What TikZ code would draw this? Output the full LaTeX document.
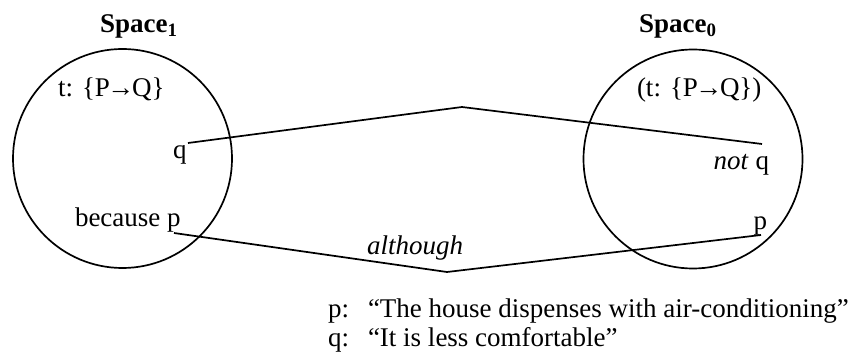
\documentclass[tikz,border=0pt]{standalone}
\usepackage{fontspec}
\setmainfont{Liberation Serif}
\newcommand{\impl}{P\kern-2.5pt→\kern-2.5pt Q}
\begin{document}
\begin{tikzpicture}[x=1pt,y=-1pt,
  lbl/.style={inner sep=0pt,outer sep=0pt,font=\fontsize{27}{32}\selectfont},
  space/.style={circle,draw,line width=1.7pt,inner sep=0pt,minimum size=219pt},
  link/.style={line width=1.7pt,line join=round}]
\useasboundingbox (0,0) rectangle (854,355);
% spaces
\node[space] (c1) at (122.5,158.5) {};
\node[space] (c0) at (693,159) {};
\node[lbl,anchor=base west] (sp1) at (100,33) {\textbf{Space\textsubscript{1}}};
\node[lbl,anchor=base west] (sp0) at (639,33) {\textbf{Space\textsubscript{0}}};
% contents
\node[lbl,anchor=base west] (t1) at (58,97) {t: \{\impl\}};
\node[lbl,anchor=base west] (t0) at (637,97) {(t: \{\impl\})};
\node[lbl,anchor=base west] (q1) at (173,159) {q};
\node[lbl,anchor=base west] (bp) at (75,227) {because p};
\node[lbl,anchor=base east] (nq) at (769,170) {\textit{not} q};
\node[lbl,anchor=base east] (p0) at (767,230) {p};
\node[lbl,anchor=base east] (alth) at (463,255) {\textit{although}};
% connectors
\coordinate (qa) at (188,143);
\coordinate (qtop) at (462,107);
\coordinate (qb) at (762,144);
\coordinate (pa) at (174,233);
\coordinate (pbot) at (447,272);
\coordinate (pb) at (761,235);
\draw[link] (qa) -- (qtop) -- (qb);
\draw[link] (pa) -- (pbot) -- (pb);
% legend
\node[lbl,anchor=base west] (lp) at (328,318) {p:};
\node[lbl,anchor=base west] (lpt) at (368,318) {“The house dispenses with air-conditioning”};
\node[lbl,anchor=base west] (lq) at (328,346) {q:};
\node[lbl,anchor=base west] (lqt) at (368,346) {“It is less comfortable”};
\end{tikzpicture}
\end{document}
